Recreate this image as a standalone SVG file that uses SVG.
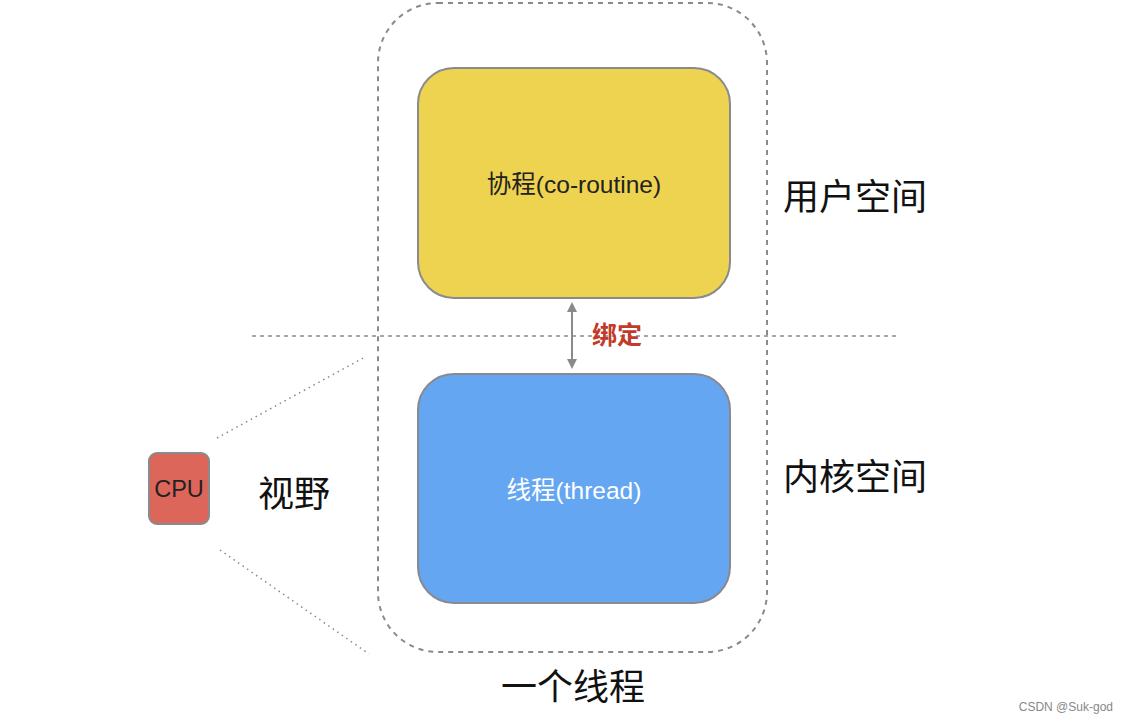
<svg xmlns="http://www.w3.org/2000/svg" width="1129" height="724" viewBox="0 0 1129 724">
<defs>
<style>
.box{stroke:#888a8e;stroke-width:2}
.lbl{font-family:"Liberation Sans","Noto Sans CJK SC",sans-serif;text-anchor:middle;dominant-baseline:central}
.big{font-family:"Noto Sans CJK SC",sans-serif;font-size:36px;fill:#111;dominant-baseline:central}
</style>
<marker id="ah" viewBox="0 0 10 10" refX="8" refY="5" markerWidth="5" markerHeight="5" orient="auto-start-reverse">
<path d="M0,0 L10,5 L0,10 z" fill="#8a8a8e"/>
</marker>
</defs>
<rect width="1129" height="724" fill="#fff"/>
<g id="connectors">
<line x1="252" y1="336" x2="897" y2="336" stroke="#8a8a8e" stroke-width="1.5" stroke-dasharray="4,4"/>
<line x1="572" y1="304" x2="572" y2="367" stroke="#8a8a8e" stroke-width="2" marker-start="url(#ah)" marker-end="url(#ah)"/>
<line x1="217" y1="438" x2="365" y2="357" stroke="#8a8a8e" stroke-width="1.5" stroke-dasharray="1.5,4"/>
<line x1="220" y1="550" x2="369" y2="654" stroke="#8a8a8e" stroke-width="1.5" stroke-dasharray="1.5,4"/>
</g>
<g id="thread-container">
<rect x="378" y="3" width="389" height="649" rx="60" fill="none" stroke="#8a8a8e" stroke-width="2" stroke-dasharray="5,5"/>
<text x="573" y="684" class="big" text-anchor="middle">一个线程</text>
</g>
<g id="coroutine">
<rect x="418" y="68" width="312" height="230" rx="36" fill="#EED350" class="box"/>
<text x="574" y="184" class="lbl" font-size="24.5" fill="#222">协程(co-routine)</text>
</g>
<g id="thread">
<rect x="418" y="374" width="312" height="229" rx="36" fill="#65A6F2" class="box"/>
<text x="574" y="490" class="lbl" font-size="24.5" fill="#fff">线程(thread)</text>
</g>
<g id="bind-label">
<text x="617" y="335" class="lbl" font-size="25" font-weight="bold" fill="#C23A2B">绑定</text>
</g>
<g id="cpu">
<rect x="149" y="453" width="60" height="71" rx="8" fill="#DD665A" class="box"/>
<text x="179" y="489" class="lbl" font-size="23.5" fill="#222">CPU</text>
</g>
<g id="view">
<text x="294" y="491" class="big" text-anchor="middle">视野</text>
</g>
<g id="user-space">
<text x="783" y="194" class="big">用户空间</text>
</g>
<g id="kernel-space">
<text x="783" y="474" class="big">内核空间</text>
</g>
<text x="1113" y="707" font-family="Liberation Sans,sans-serif" font-size="12" fill="#888" text-anchor="end" dominant-baseline="central">CSDN @Suk-god</text>
</svg>
